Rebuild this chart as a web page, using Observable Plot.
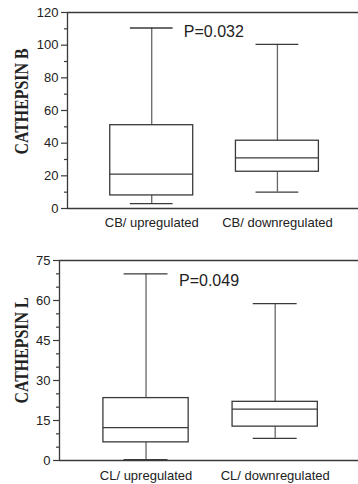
<!DOCTYPE html>
<html>
<head>
<meta charset="utf-8">
<script src="https://cdn.jsdelivr.net/npm/d3@7"></script>
<script src="https://cdn.jsdelivr.net/npm/@observablehq/plot@0.6"></script>
<style>
  body { margin: 0; background: #fff; }
  #chart div, #chart svg { display: block; }
</style>
</head>
<body>
<div id="chart"></div>
<script>
// ---- Data ----
const cbGroups = ["CB/ upregulated", "CB/ downregulated"];
const cbMin = [3, 10];
const cbQ1 = [8, 22.5];
const cbMed = [21, 31];
const cbQ3 = [51, 41.5];
const cbMax = [110.5, 100.5];
const cbTicks = [0, 20, 40, 60, 80, 100, 120];
const cbMinor = [10, 30, 50, 70, 90, 110];
const cbP = "P=0.032";
const cbPy = 108;
const cbLabel = "CATHEPSIN B";

const clGroups = ["CL/ upregulated", "CL/ downregulated"];
const clMin = [0.3, 8.3];
const clQ1 = [6.8, 12.7];
const clMed = [12.3, 19.3];
const clQ3 = [23.4, 22];
const clMax = [70, 58.8];
const clTicks = [0, 15, 30, 45, 60, 75];
const clMinor = [5, 10, 20, 25, 35, 40, 50, 55, 65, 70];
const clP = "P=0.049";
const clPy = 67.5;
const clLabel = "CATHEPSIN L";

// ---- Layout constants ----
const xDomain = [0.33, 2.645];
const boxHalf = 0.33;
const capHalf = 0.17;
const pX = 1.255;
const ink = "#3a3a3a";

function boxplot(cfg) {
  const rows = cfg.groups.map((g, i) => ({
    g, pos: i + 1,
    min: cfg.min[i], q1: cfg.q1[i], med: cfg.med[i], q3: cfg.q3[i], max: cfg.max[i]
  }));
  const yMax = cfg.ticks[cfg.ticks.length - 1];
  const plot = Plot.plot({
    width: 358,
    height: cfg.height,
    marginLeft: cfg.marginLeft,
    marginRight: 0,
    marginTop: cfg.marginTop,
    marginBottom: cfg.marginBottom,
    style: { fontFamily: "'Liberation Sans', Arial, sans-serif", fontSize: "13px", color: "#222", background: "#fff" },
    x: { domain: xDomain, axis: null },
    y: { domain: [0, yMax], axis: null },
    marks: [
      // whiskers
      Plot.ruleX(rows, { x: "pos", y1: "q3", y2: "max", stroke: "#666", strokeWidth: 1.3 }),
      Plot.ruleX(rows, { x: "pos", y1: "min", y2: "q1", stroke: "#666", strokeWidth: 1.3 }),
      // caps
      Plot.ruleY(rows, { y: "max", x1: d => d.pos - capHalf, x2: d => d.pos + capHalf, stroke: ink, strokeWidth: 1.3 }),
      Plot.ruleY(rows, { y: "min", x1: d => d.pos - capHalf, x2: d => d.pos + capHalf, stroke: ink, strokeWidth: 1.3 }),
      // boxes
      Plot.rect(rows, { x1: d => d.pos - boxHalf, x2: d => d.pos + boxHalf, y1: "q1", y2: "q3", fill: "white", stroke: ink, strokeWidth: 1.3 }),
      // medians
      Plot.ruleY(rows, { y: "med", x1: d => d.pos - boxHalf, x2: d => d.pos + boxHalf, stroke: ink, strokeWidth: 1.3 }),
      // frame lines
      Plot.ruleY([0, yMax], { stroke: ink, strokeWidth: 1.3 }),
      Plot.ruleX([xDomain[0]], { stroke: ink, strokeWidth: 1.3 }),
      // y axis
      Plot.axisY(cfg.ticks, { tickSize: 6, tickPadding: 3, stroke: ink, strokeWidth: 1.2, fill: "#222", fontSize: 13, label: null }),
      Plot.axisY(cfg.minor, { tickSize: 3, tickFormat: () => "", stroke: ink, strokeWidth: 1.2, label: null }),
      // x axis labels
      Plot.axisX(rows.map(d => d.pos), { tickSize: 0, tickPadding: cfg.xPad, tickFormat: p => cfg.groups[p - 1], fill: "#222", fontSize: 13, label: null }),
      // p value
      Plot.text([cfg.p], { x: pX, y: cfg.py, text: d => d, textAnchor: "start", fontSize: 16, fill: "#222" }),
      // y label
      Plot.text([cfg.label], { frameAnchor: "left", textAnchor: "middle", dx: cfg.labelDx, dy: cfg.labelDy, rotate: -90, text: d => d,
        fontFamily: "'Liberation Serif', 'Times New Roman', serif", fontWeight: "bold", fontSize: 18, fill: "#222" })
    ]
  });
  plot.querySelectorAll("text").forEach(t => {
    if (t.textContent === cfg.label) {
      t.setAttribute("textLength", 106);
      t.setAttribute("lengthAdjust", "spacingAndGlyphs");
    }
  });
  return plot;
}

const chart = document.getElementById("chart");
chart.appendChild(boxplot({
  groups: cbGroups, min: cbMin, q1: cbQ1, med: cbMed, q3: cbQ3, max: cbMax,
  ticks: cbTicks, minor: cbMinor, p: cbP, py: cbPy, label: cbLabel,
  height: 240, marginLeft: 67, marginTop: 12, marginBottom: 32, xPad: 9.5,
  labelDx: -45, labelDy: -9
}));
chart.appendChild(boxplot({
  groups: clGroups, min: clMin, q1: clQ1, med: clMed, q3: clQ3, max: clMax,
  ticks: clTicks, minor: clMinor, p: clP, py: clPy, label: clLabel,
  height: 244, marginLeft: 59, marginTop: 20, marginBottom: 24, xPad: 10.5,
  labelDx: -37, labelDy: -10
}));
</script>
</body>
</html>
